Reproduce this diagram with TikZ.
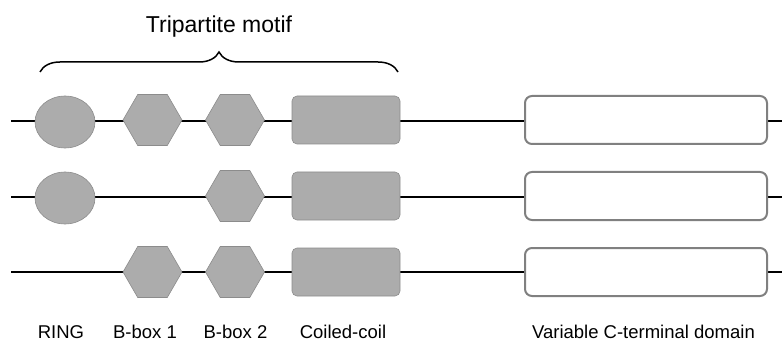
\documentclass[tikz,border=0pt]{standalone}
\usepackage{fontspec}
\setmainfont{Liberation Sans}
\usetikzlibrary{shapes.geometric,decorations.pathreplacing}
\definecolor{dom}{RGB}{172,172,172}
\definecolor{domedge}{RGB}{140,140,140}
\definecolor{varedge}{RGB}{128,128,128}
\tikzset{
  backbone/.style={line width=1.9pt,black},
  ringdom/.style={ellipse,fill=dom,draw=domedge,line width=0.6pt,minimum width=60pt,minimum height=52pt,inner sep=0pt},
  hexdom/.style={regular polygon,regular polygon sides=6,fill=dom,draw=domedge,line width=0.6pt,minimum size=59pt,inner sep=0pt},
  ccdom/.style={rectangle,rounded corners=5pt,fill=dom,draw=domedge,line width=0.6pt,minimum width=108pt,minimum height=48pt,inner sep=0pt},
  vardom/.style={rectangle,rounded corners=7pt,fill=white,draw=varedge,line width=2pt,minimum width=242pt,minimum height=48pt,inner sep=0pt},
  lbl/.style={font=\fontsize{18.5pt}{22pt}\selectfont,anchor=base,inner sep=0pt},
  ttl/.style={font=\fontsize{23pt}{27pt}\selectfont,anchor=base,inner sep=0pt}
}
\begin{document}
\begin{tikzpicture}[x=1pt,y=1pt]
\useasboundingbox (0,0) rectangle (782,-342);
% backbones
\coordinate (L1) at (11,-121); \coordinate (R1) at (782,-121);
\coordinate (L2) at (11,-197); \coordinate (R2) at (782,-197);
\coordinate (L3) at (11,-272); \coordinate (R3) at (782,-272);
\draw[backbone] (L1) -- (R1);
\draw[backbone] (L2) -- (R2);
\draw[backbone] (L3) -- (R3);
% row 1
\node[ringdom] (ring1) at (65,-122) {};
\node[hexdom] (bb1a) at (152.5,-120) {};
\node[hexdom] (bb2a) at (235,-120) {};
\node[ccdom] (cc1) at (346,-120) {};
\node[vardom] (var1) at (646,-120) {};
% row 2
\node[ringdom] (ring2) at (65,-198) {};
\node[hexdom] (bb2b) at (235,-196) {};
\node[ccdom] (cc2) at (346,-196) {};
\node[vardom] (var2) at (646,-196) {};
% row 3
\node[hexdom] (bb1c) at (152.5,-272) {};
\node[hexdom] (bb2c) at (235,-272) {};
\node[ccdom] (cc3) at (346,-272) {};
\node[vardom] (var3) at (646,-272) {};
% brace
\coordinate (bl) at (40,-72);
\coordinate (br) at (398,-72);
\draw[line width=1.5pt,decorate,decoration={brace,amplitude=20pt}] (bl) -- (br);
\node[ttl] (title) at (219,-33) {Tripartite motif};
% labels
\node[lbl] (lring) at (61,-338) {RING};
\node[lbl] (lbb1) at (145,-338) {B-box 1};
\node[lbl] (lbb2) at (235.5,-338) {B-box 2};
\node[lbl] (lcc) at (343,-338) {Coiled-coil};
\node[lbl] (lvar) at (643.5,-338) {Variable C-terminal domain};
\end{tikzpicture}
\end{document}
